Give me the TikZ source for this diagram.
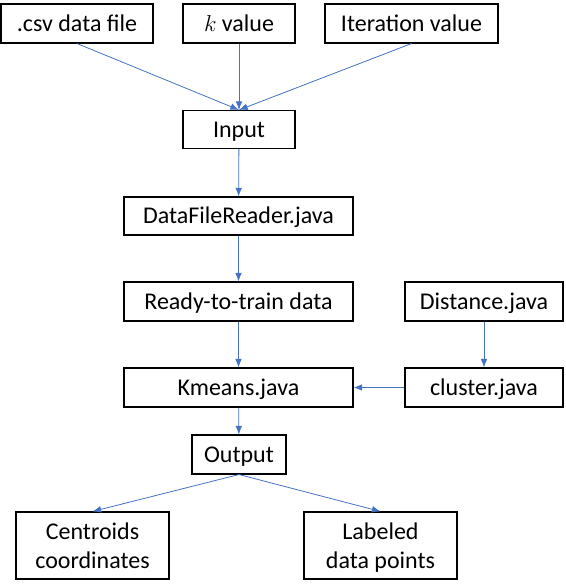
\documentclass[tikz,border=0pt]{standalone}
\usepackage{fontspec}
\setmainfont{Carlito}
\usetikzlibrary{arrows.meta}
\definecolor{arrblue}{HTML}{4472C4}
\begin{document}
\begin{tikzpicture}[x=0.75pt,y=-0.75pt,
  box/.style={draw=black,line width=0.8pt,inner sep=0pt,align=center,
    font=\fontsize{18}{22}\selectfont,minimum height=29.25pt,
    text height=11.6pt,text depth=0pt},
  box2/.style={draw=black,line width=0.8pt,inner sep=0pt,align=center,
    font=\fontsize{18}{22}\selectfont,minimum width=114.75pt,minimum height=50.25pt},
  arr/.style={draw=arrblue,line width=0.6pt,-{Latex[length=6.5pt,width=5pt]}}]
\useasboundingbox (0,0) rectangle (565,588);
\node[box,minimum width=114pt] (csv) at (77,23.5) {.csv data file};
\node[box,minimum width=84pt] (kv) at (239,23.5) {$k$ value};
\node[box,minimum width=129.75pt] (it) at (411.5,23.5) {Iteration value};
\node[box,minimum width=84pt,minimum height=28.5pt] (in) at (239,129.5) {Input};
\node[box,minimum width=171.75pt,minimum height=28.5pt] (dfr) at (238.5,216) {DataFileReader.java};
\node[box,minimum width=171.75pt] (rt) at (238.5,301.5) {Ready-to-train data};
\node[box,minimum width=118.5pt] (dist) at (484,301.5) {Distance.java};
\node[box,minimum width=171.75pt] (km) at (238.5,387.5) {Kmeans.java};
\node[box,minimum width=118.5pt] (cl) at (484,387.5) {cluster.java};
\node[box,minimum width=70.5pt] (out) at (239,454.5) {Output};
\node[box2] (cen) at (92.5,545.5) {Centroids\\coordinates};
\node[box2] (lab) at (380.5,545.5) {Labeled\\\smash{data points}};
\draw[arr] (csv.south) -- (in.north);
\draw[arr] (kv.south) -- (in.north);
\draw[arr] (it.south) -- (in.north);
\draw[arr] (in) -- (dfr);
\draw[arr] (dfr) -- (rt);
\draw[arr] (rt) -- (km);
\draw[arr] (dist) -- (cl);
\draw[arr] (cl) -- (km);
\draw[arr] (km) -- (out);
\draw[arr] (out.south) -- (cen.north);
\draw[arr] (out.south) -- (lab.north);
\end{tikzpicture}
\end{document}
